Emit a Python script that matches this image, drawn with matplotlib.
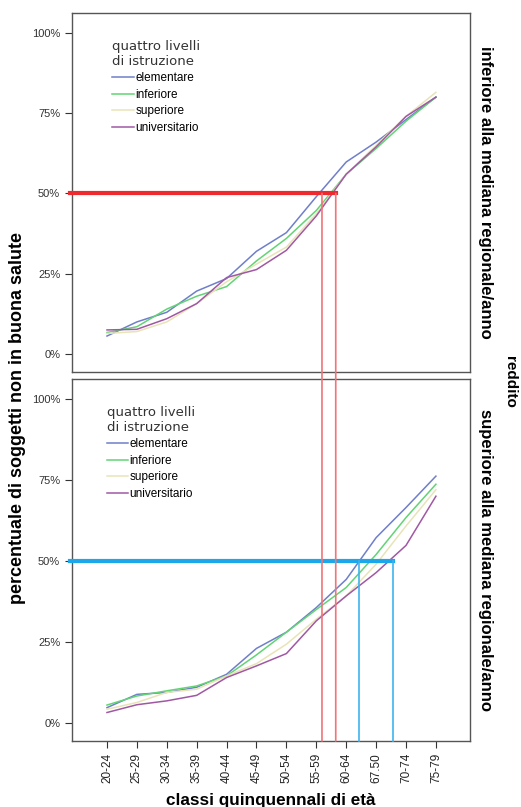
import matplotlib
matplotlib.use("Agg")
import matplotlib.pyplot as plt
from matplotlib.patches import ConnectionPatch
from matplotlib.ticker import PercentFormatter

plt.rcParams['font.family'] = ['Liberation Sans', 'DejaVu Sans']

# age classes (labels as printed on the original chart)
classi = ["20-24", "25-29", "30-34", "35-39", "40-44", "45-49",
          "50-54", "55-59", "60-64", "67.50", "70-74", "75-79"]
livelli = ["elementare", "inferiore", "superiore", "universitario"]
colori = ["#6f7fc9", "#62d474", "#e8e4b8", "#a058a4"]

# reddito inferiore alla mediana
inf_elementare = [0.056, 0.10, 0.13, 0.196, 0.235, 0.32, 0.378, 0.49, 0.598, 0.66, 0.73, 0.80]
inf_inferiore = [0.067, 0.085, 0.14, 0.18, 0.21, 0.29, 0.36, 0.447, 0.56, 0.64, 0.725, 0.80]
inf_superiore = [0.064, 0.07, 0.10, 0.157, 0.225, 0.28, 0.333, 0.437, 0.56, 0.65, 0.74, 0.815]
inf_universitario = [0.075, 0.077, 0.11, 0.157, 0.238, 0.263, 0.323, 0.43, 0.56, 0.645, 0.74, 0.80]

# reddito superiore alla mediana
sup_elementare = [0.047, 0.088, 0.094, 0.11, 0.15, 0.23, 0.28, 0.356, 0.443, 0.572, 0.665, 0.762]
sup_inferiore = [0.055, 0.083, 0.099, 0.114, 0.145, 0.21, 0.28, 0.35, 0.418, 0.52, 0.634, 0.737]
sup_superiore = [0.042, 0.063, 0.094, 0.104, 0.145, 0.183, 0.243, 0.32, 0.392, 0.49, 0.608, 0.72]
sup_universitario = [0.032, 0.056, 0.068, 0.085, 0.14, 0.176, 0.214, 0.315, 0.392, 0.464, 0.548, 0.70]

# 50% crossing marks (category index units)
soglia = 0.5
cross_inf = [7.19, 7.65]
cross_sup = [8.42, 9.58]

fig = plt.figure(figsize=(5.21, 8.07), dpi=100)
W, H = 521, 807
ax1 = fig.add_axes([72 / W, 1 - 372 / H, 398 / W, 359 / H])
ax2 = fig.add_axes([72 / W, 1 - 741 / H, 398 / W, 362 / H])

x = list(range(len(classi)))
dati = [
    (ax1, [inf_elementare, inf_inferiore, inf_superiore, inf_universitario], 0.075),
    (ax2, [sup_elementare, sup_inferiore, sup_superiore, sup_universitario], 0.06),
]

for ax, serie, lx in dati:
    for s, c, lab in zip(serie, colori, livelli):
        ax.plot(x, s, color=c, lw=1.1, label=lab)
    ax.set_xlim(-1.17, 12.14)
    ax.set_ylim(-0.056, 1.062)
    ax.set_yticks([0, 0.25, 0.5, 0.75, 1.0])
    ax.yaxis.set_major_formatter(PercentFormatter(1.0, decimals=0))
    ax.tick_params(axis='y', labelsize=8, labelcolor='#333333', length=5, width=0.8, color='#333333')
    ax.tick_params(axis='x', length=5, width=0.8, color='#333333')
    for sp in ax.spines.values():
        sp.set_color('#555555')
        sp.set_linewidth(1.0)
    leg = ax.legend(loc='upper left', bbox_to_anchor=(lx, 0.955), frameon=False,
                    title="quattro livelli\ndi istruzione", fontsize=8.5,
                    handlelength=1.8, handletextpad=0.15, labelspacing=0.38)
    leg.get_title().set_fontsize(9.5)
    leg.get_title().set_family('DejaVu Sans')
    leg.get_title().set_color('#333333')
    leg._legend_box.align = "left"

ax1.set_xticks(x)
ax1.tick_params(axis='x', labelbottom=False, length=0)
ax2.set_xticks(x)
ax2.set_xticklabels(classi, rotation=90, fontsize=8.5, color='#222222')

# reference lines at 50%
ax1.plot([-1.25, cross_inf[1]], [soglia, soglia], color='#ee2a2f', lw=3, clip_on=False, zorder=5)
for xc in cross_inf:
    con = ConnectionPatch(xyA=(xc, soglia), coordsA='data', axesA=ax1,
                          xyB=(xc, -0.056), coordsB='data', axesB=ax2,
                          color='#f07478', lw=1.2, zorder=5)
    fig.add_artist(con)

ax2.plot([-1.25, cross_sup[1]], [soglia, soglia], color='#1ba7ea', lw=3, clip_on=False, zorder=5)
for xc in cross_sup:
    ax2.plot([xc, xc], [soglia, -0.056], color='#3db4ef', lw=1.2, zorder=5, clip_on=False)

# labels
fig.text(18 / W, 1 - 418 / H, "percentuale di soggetti non in buona salute",
         rotation=90, ha='center', va='center', fontsize=13, fontweight='bold')
fig.text(271 / W, 1 - 800 / H, "classi quinquennali di età",
         ha='center', va='center', fontsize=12.3, fontweight='bold')
fig.text(485 / W, 1 - 192 / H, "inferiore alla mediana regionale/anno",
         rotation=-90, ha='center', va='center', fontsize=12, fontweight='bold')
fig.text(485 / W, 1 - 560 / H, "superiore alla mediana regionale/anno",
         rotation=-90, ha='center', va='center', fontsize=12, fontweight='bold')
fig.text(510 / W, 1 - 382 / H, "reddito",
         rotation=-90, ha='center', va='center', fontsize=11, fontweight='bold')

fig.savefig("out.png", dpi=100)
